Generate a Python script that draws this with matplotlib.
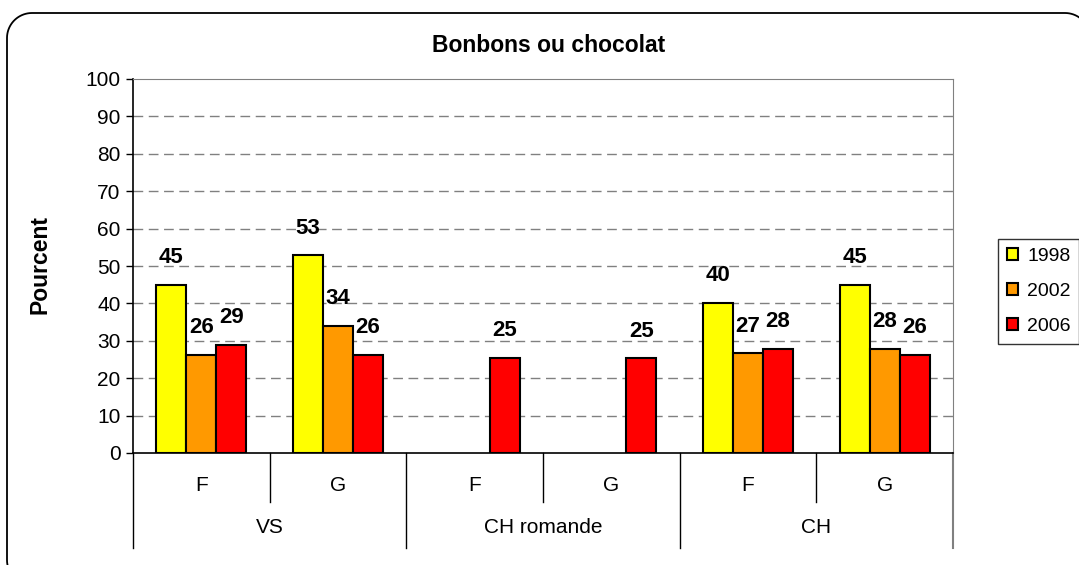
import numpy as np
import matplotlib.pyplot as plt
from matplotlib.lines import Line2D
import matplotlib.transforms as mtransforms

plt.rcParams['font.family'] = ['Liberation Sans', 'DejaVu Sans']

# Daten
groups = ["VS", "CH romande", "CH"]
subcats = ["F", "G", "F", "G", "F", "G"]
years = ["1998", "2002", "2006"]
v1998 = [44.9, 52.9, np.nan, np.nan, 40.2, 44.9]
v2002 = [26.2, 34.0, np.nan, np.nan, 26.7, 27.8]
v2006 = [28.9, 26.2, 25.4, 25.3, 27.8, 26.2]
colors = ["#FFFF00", "#FF9900", "#FF0000"]

W, H = 1079, 565
fig = plt.figure(figsize=(W/100, H/100), dpi=100)
ax = fig.add_axes([133/W, 1-453/H, 820/W, 374/H])

x = np.arange(len(subcats)) + 0.5
w = 0.22
for i, (vals, c, yr) in enumerate(zip([v1998, v2002, v2006], colors, years)):
    xs = x + (i-1)*w
    ax.bar(xs, vals, w, color=c, edgecolor="black", linewidth=1.5, label=yr, zorder=3)
    for xx, v in zip(xs, vals):
        if not np.isnan(v):
            ax.annotate("%.0f" % v, (xx, v), xytext=(0, 19.5), textcoords="offset points",
                        ha="center", va="center", fontsize=16, fontweight="bold")

ax.set_xlim(0, 6)
ax.set_ylim(0, 100)
ax.set_yticks(range(0, 101, 10))
ax.tick_params(axis="y", labelsize=15, length=5, width=1, direction="out", pad=4)
ax.set_xticks([])
for y in range(10, 100, 10):
    ax.axhline(y, color="#808080", linestyle=(0, (7, 4)), linewidth=1, zorder=1)
ax.spines["top"].set_color("#808080")
ax.spines["right"].set_color("#808080")
ax.spines["left"].set_linewidth(1.2)
ax.spines["bottom"].set_linewidth(1.2)

# Kategorien-Achse mit zwei Ebenen
trans = mtransforms.blended_transform_factory(ax.transData, ax.transAxes)
for xx in [1, 3, 5]:
    ax.plot([xx, xx], [0, -0.131], color="black", lw=1, transform=trans, clip_on=False)
for xx in [0, 2, 4]:
    ax.plot([xx, xx], [0, -0.254], color="black", lw=1, transform=trans, clip_on=False)
ax.plot([6, 6], [0, -0.254], color="#808080", lw=1.5, transform=trans, clip_on=False)
for xx, s in zip(x, subcats):
    ax.text(xx, -0.0856, s, transform=trans, ha="center", va="center", fontsize=15)
for k, g in enumerate(groups):
    ax.text(2*k+1, -0.2005, g, transform=trans, ha="center", va="center", fontsize=15)

ax.set_ylabel("Pourcent", fontsize=16.5, fontweight="bold")
ax.yaxis.set_label_coords(52/W, 1-264/H, transform=fig.transFigure)
fig.text(549/W, 1-46/H, "Bonbons ou chocolat", ha="center", va="center",
         fontsize=16.5, fontweight="bold")

leg = fig.legend(loc="upper left", bbox_to_anchor=(998/W, 1-239/H), fontsize=14,
                 frameon=True, fancybox=False, edgecolor="black", handlelength=0.6,
                 handleheight=0.6, handletextpad=0.45, labelspacing=0.93, borderpad=0.45,
                 borderaxespad=0)
leg.get_frame().set_linewidth(1)

# abgerundeter Rahmen (Pixelkoordinaten)
x0, x1, y0, y1, r = 7, 1090, 13, 585, 25
t = np.linspace(0, np.pi/2, 20)
px = np.concatenate([x1 - r + r*np.cos(t), x0 + r - r*np.sin(t),
                     x0 + r - r*np.cos(t), x1 - r + r*np.sin(t), [x1]])
py = np.concatenate([y0 + r - r*np.sin(t), y0 + r - r*np.cos(t),
                     y1 - r + r*np.sin(t), y1 - r + r*np.cos(t), [y0 + r]])
fig.lines.append(Line2D(px/W, 1 - py/H, transform=fig.transFigure, color="black", lw=1.3))

plt.savefig("out.png", dpi=100)
